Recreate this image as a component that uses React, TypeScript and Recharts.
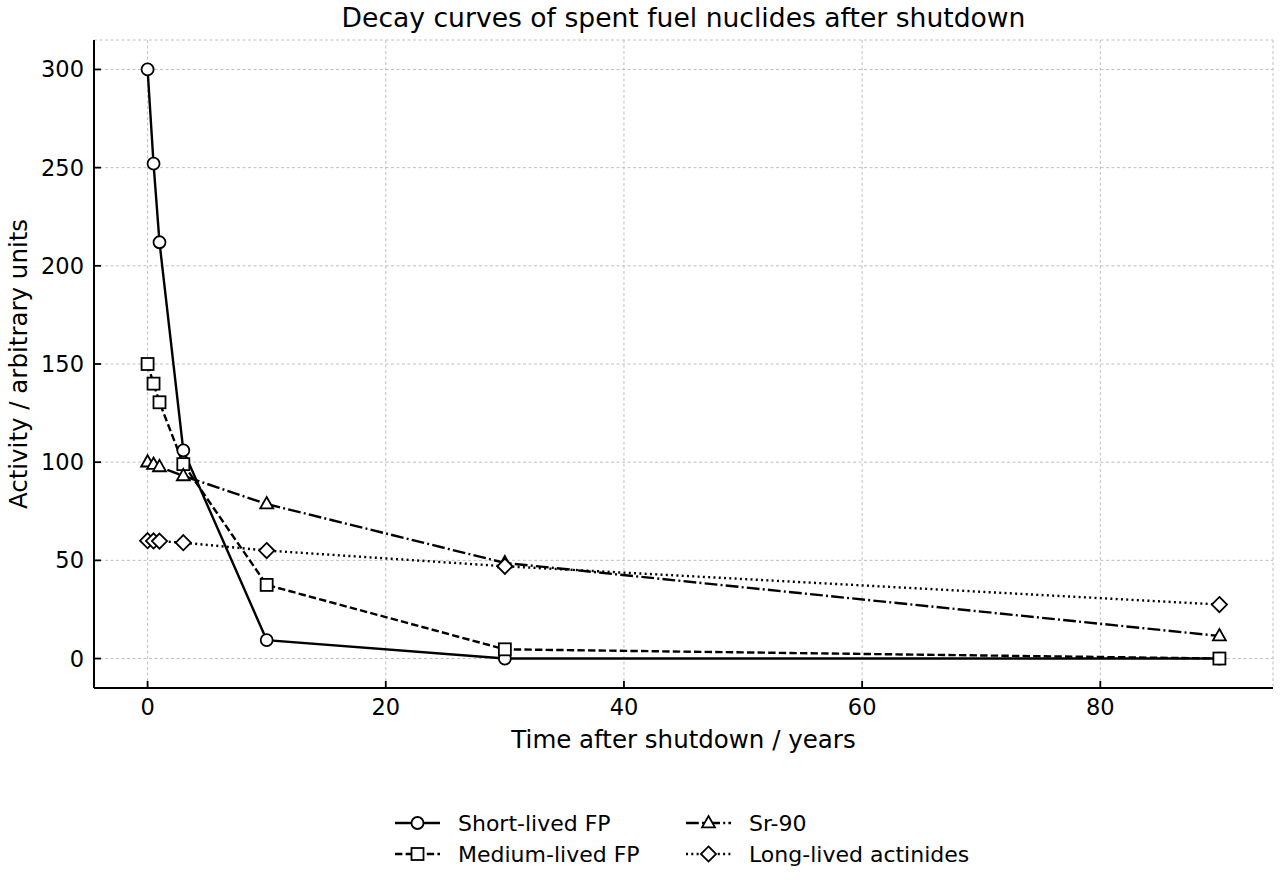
import React from 'react';
import { LineChart, Line, XAxis, YAxis, CartesianGrid } from 'recharts';

const years = [0, 0.5, 1, 3, 10, 30, 90];
const shortLivedFP = [300, 252, 212, 106, 9.4, 0.01, 0];
const mediumLivedFP = [150, 140, 130.5, 99, 37.5, 4.7, 0.01];
const sr90 = [100, 98.8, 97.6, 93, 78.7, 48.7, 11.5];
const longLivedActinides = [60, 59.9, 59.8, 59, 55, 47, 27.5];

const xTicks = [0, 20, 40, 60, 80];
const yTicks = [0, 50, 100, 150, 200, 250, 300];

const data = years.map((t, i) => ({
  t,
  short: shortLivedFP[i],
  medium: mediumLivedFP[i],
  sr: sr90[i],
  act: longLivedActinides[i],
}));

const FONT = 'DejaVu Sans, sans-serif';
const W = 1280;
const H = 880;
const PLOT_LEFT = 94;
const PLOT_RIGHT = 1273;
const PLOT_TOP = 40;
const PLOT_BOTTOM = 688;

type Marker = 'circle' | 'square' | 'triangle' | 'diamond';

const series: { key: string; name: string; dash?: string; marker: Marker }[] = [
  { key: 'short', name: 'Short-lived FP', marker: 'circle' },
  { key: 'medium', name: 'Medium-lived FP', dash: '7.4 3.2', marker: 'square' },
  { key: 'sr', name: 'Sr-90', dash: '12.8 3.2 2 3.2', marker: 'triangle' },
  { key: 'act', name: 'Long-lived actinides', dash: '2 3.3', marker: 'diamond' },
];

function drawMarker(kind: Marker, cx: number, cy: number, key?: string | number) {
  const common = { fill: '#fff', stroke: '#000', strokeWidth: 1.8 };
  if (kind === 'circle') return <circle key={key} cx={cx} cy={cy} r={6} {...common} />;
  if (kind === 'square') return <rect key={key} x={cx - 6} y={cy - 6} width={12} height={12} {...common} />;
  if (kind === 'triangle') {
    const r = 7;
    const pts = `${cx},${cy - r} ${cx + r * 0.92},${cy + r * 0.62} ${cx - r * 0.92},${cy + r * 0.62}`;
    return <polygon key={key} points={pts} {...common} />;
  }
  const r = 7.6;
  const pts = `${cx},${cy - r} ${cx + r},${cy} ${cx},${cy + r} ${cx - r},${cy}`;
  return <polygon key={key} points={pts} {...common} />;
}

const makeDot = (kind: Marker) => (props: any) => {
  const { cx, cy, index } = props;
  if (cx == null || cy == null) return <g key={index} />;
  return drawMarker(kind, cx, cy, index);
};

const XTick = (props: any) => {
  const { x, payload } = props;
  return (
    <g>
      <line x1={x} x2={x} y1={PLOT_BOTTOM} y2={PLOT_BOTTOM - 7} stroke="#000" strokeWidth={1.8} />
      <text x={x} y={PLOT_BOTTOM + 27} textAnchor="middle" fontSize={22.5} fontFamily={FONT} fill="#000">
        {payload.value}
      </text>
    </g>
  );
};

const YTick = (props: any) => {
  const { y, payload } = props;
  return (
    <g>
      <line x1={PLOT_LEFT} x2={PLOT_LEFT + 7} y1={y} y2={y} stroke="#000" strokeWidth={1.8} />
      <text x={PLOT_LEFT - 10} y={y + 8} textAnchor="end" fontSize={22.5} fontFamily={FONT} fill="#000">
        {payload.value}
      </text>
    </g>
  );
};

// legend: two columns, below the plot
const LegendBox = () => {
  const cols = [395, 686];
  const rows = [823, 854];
  return (
    <svg width={W} height={H} style={{ position: 'absolute', left: 0, top: 0, pointerEvents: 'none' }}>
      {series.map((s, i) => {
        const x0 = cols[Math.floor(i / 2)];
        const y0 = rows[i % 2];
        return (
          <g key={s.key}>
            <line x1={x0} x2={x0 + 45} y1={y0} y2={y0} stroke="#000" strokeWidth={2.4} strokeDasharray={s.dash} />
            {drawMarker(s.marker, x0 + 22.5, y0)}
            <text x={x0 + 63} y={y0 + 8} fontSize={22} fontFamily={FONT} fill="#000">
              {s.name}
            </text>
          </g>
        );
      })}
    </svg>
  );
};

export default function App() {
  return (
    <div style={{ position: 'absolute', left: 0, top: 0, width: W, height: H, background: '#fff' }}>
      <LineChart
        width={W}
        height={H}
        data={data}
        margin={{ top: PLOT_TOP, right: W - PLOT_RIGHT, left: 0, bottom: 0 }}
      >
        <text x={(PLOT_LEFT + PLOT_RIGHT) / 2} y={27} textAnchor="middle" fontSize={26.6} fontFamily={FONT} fill="#000">
          Decay curves of spent fuel nuclides after shutdown
        </text>
        <text x={(PLOT_LEFT + PLOT_RIGHT) / 2} y={748} textAnchor="middle" fontSize={24.5} fontFamily={FONT} fill="#000">
          Time after shutdown / years
        </text>
        <text
          x={27}
          y={(PLOT_TOP + PLOT_BOTTOM) / 2}
          transform={`rotate(-90 27 ${(PLOT_TOP + PLOT_BOTTOM) / 2})`}
          textAnchor="middle"
          fontSize={24.5}
          fontFamily={FONT}
          fill="#000"
        >
          Activity / arbitrary units
        </text>
        <CartesianGrid stroke="#b0b0b0" strokeWidth={0.8} strokeDasharray="3 2.5" />
        <XAxis
          dataKey="t"
          type="number"
          domain={[-4.5, 94.5]}
          ticks={xTicks}
          height={H - PLOT_BOTTOM}
          axisLine={{ stroke: '#000', strokeWidth: 2 }}
          tickLine={false}
          tick={<XTick />}
        />
        <YAxis
          type="number"
          domain={[-15, 315]}
          ticks={yTicks}
          width={PLOT_LEFT}
          axisLine={{ stroke: '#000', strokeWidth: 2 }}
          tickLine={false}
          tick={<YTick />}
        />
        {series.map((s) => (
          <Line
            key={s.key}
            dataKey={s.key}
            name={s.name}
            type="linear"
            stroke="#000"
            strokeWidth={2.4}
            strokeDasharray={s.dash}
            dot={makeDot(s.marker)}
            activeDot={false}
            isAnimationActive={false}
          />
        ))}
      </LineChart>
      <LegendBox />
    </div>
  );
}
